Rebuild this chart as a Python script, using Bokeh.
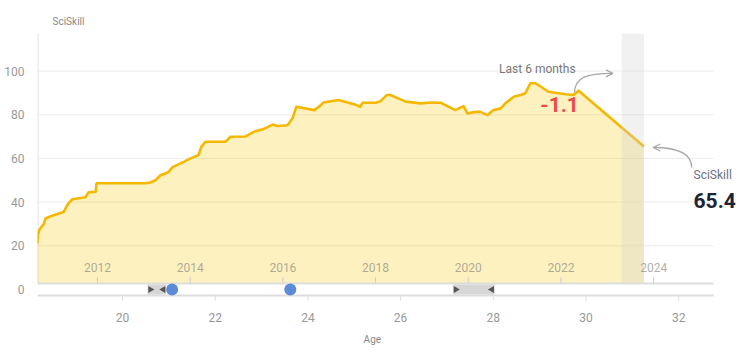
import math
from bokeh.plotting import figure
from bokeh.models import Label, Arrow, OpenHead
from bokeh.embed import file_html
from bokeh.resources import INLINE

# ---- data ----
ages = [18.16, 18.18, 18.21, 18.30, 18.34, 18.45, 18.73, 18.83, 18.92, 19.20, 19.27, 19.42, 19.44,
        20.50, 20.60, 20.71, 20.82, 20.99, 21.08, 21.32, 21.47, 21.64, 21.70, 21.79, 22.22, 22.33,
        22.65, 22.83, 23.04, 23.24, 23.34, 23.56, 23.67, 23.75, 24.14, 24.25, 24.34, 24.66, 25.05,
        25.13, 25.18, 25.46, 25.57, 25.70, 25.78, 26.11, 26.43, 26.65, 26.86, 27.18, 27.36, 27.44,
        27.62, 27.72, 27.87, 28.00, 28.16, 28.26, 28.44, 28.59, 28.69, 28.80, 28.91, 29.19, 29.56,
        29.73, 29.84, 31.25]
sciskill = [21.0, 25.5, 27.5, 30.0, 32.5, 33.5, 35.5, 39.4, 41.3, 42.2, 44.5, 44.7, 48.6,
            48.6, 49.0, 50.0, 52.3, 53.7, 56.0, 58.4, 60.0, 61.5, 65.3, 67.6, 67.6, 69.9,
            70.0, 72.2, 73.4, 75.5, 74.8, 75.2, 78.4, 83.6, 82.1, 83.9, 85.6, 86.7, 84.4,
            83.6, 85.5, 85.5, 86.2, 89.0, 89.0, 86.0, 85.2, 85.6, 85.5, 82.1, 83.9, 80.6,
            81.3, 81.3, 79.8, 82.1, 82.9, 85.2, 88.2, 89.0, 89.8, 94.4, 94.4, 90.5, 89.4,
            89.0, 91.0, 65.4]
years = [2012, 2014, 2016, 2018, 2020, 2022, 2024]
year_offset = 1992.54            # calendar year minus age
age_ticks = [20, 22, 24, 26, 28, 30, 32]
y_ticks = [0, 20, 40, 60, 80, 100]
grid_values = [20, 40, 60, 80, 100]
last6_start, last6_end = 30.77, 31.25
range_left = [20.54, 27.13]
range_right = [20.94, 28.03]
milestones = [21.07, 23.62]
current_value = "65.4"
change_6m = "-1.1"

FONT = "Roboto"
BASE = 2.75
YTOP = 117.2
XMIN, XMAX = 18.166, 32.751
AXIS_Y = -2.75

p = figure(width=750, height=356, x_range=(XMIN, 33.549), y_range=(-30.66, 132.27),
           output_backend="svg", toolbar_location=None,
           min_border_left=37, min_border_right=0, min_border_top=0, min_border_bottom=0)
p.outline_line_color = None
p.background_fill_color = "white"
p.border_fill_color = "white"
p.xaxis.visible = False

# grid (drawn manually so it stops at the chart's right edge)
p.xgrid.visible = False
p.ygrid.visible = False
p.segment(x0=[XMIN] * len(grid_values), y0=grid_values, x1=[XMAX] * len(grid_values),
          y1=grid_values, line_color="#ececec", line_width=1)

# y axis
p.yaxis.ticker = y_ticks
p.yaxis.axis_line_color = None
p.yaxis.major_tick_line_color = None
p.yaxis.minor_tick_line_color = None
p.yaxis.major_label_standoff = 7
p.yaxis.major_label_text_font = FONT
p.yaxis.major_label_text_font_size = "12px"
p.yaxis.major_label_text_color = "#999999"

# bottom age axis
p.segment(x0=[XMIN], y0=[AXIS_Y], x1=[XMAX], y1=[AXIS_Y], line_color="#dddddd", line_width=2)
p.segment(x0=age_ticks, y0=[AXIS_Y] * len(age_ticks), x1=age_ticks, y1=[-5.1] * len(age_ticks),
          line_color="#dddddd", line_width=1)
p.text(x=age_ticks, y=[-12.8] * len(age_ticks), text=[str(a) for a in age_ticks],
       text_align="center", text_baseline="middle", text_font_size="12px",
       text_color="#999999", text_font={"value": FONT})
p.add_layout(Label(x=25.39, y=-22.9, text="Age", text_align="center", text_baseline="middle",
                   text_font=FONT, text_font_size="10px", text_color="#888888"))

# left vertical line
p.segment(x0=[XMIN + 0.01], y0=[BASE], x1=[XMIN + 0.01], y1=[YTOP], line_color="#e6e6e6", line_width=1.5)

# area + line
p.varea(x=ages, y1=BASE, y2=sciskill, fill_color="#f7c600", fill_alpha=0.25)
p.line(x=ages, y=sciskill, line_color="#f5b800", line_width=2.6, line_join="round")

# last 6 months band
p.quad(left=[last6_start], right=[last6_end], bottom=[BASE], top=[YTOP],
       fill_color="#cfcfcf", fill_alpha=0.3, line_color=None)

# strip top line
p.segment(x0=[XMIN], y0=[BASE], x1=[XMAX], y1=[BASE], line_color="#dddddd", line_width=2)

# year ticks and labels
year_ages = [y - year_offset for y in years]
p.segment(x0=year_ages, y0=[BASE] * len(years), x1=year_ages, y1=[5.6] * len(years),
          line_color="#cccccc", line_width=1)
p.text(x=year_ages, y=[10.1] * len(years), text=[str(y) for y in years],
       text_align="center", text_baseline="middle", text_font_size="12px",
       text_color="#777777", text_alpha=0.6, text_font={"value": FONT})

# range indicators in the strip
p.quad(left=range_left, right=range_right, bottom=[-2.3] * 2, top=[2.3] * 2,
       fill_color="#d6d6d6", line_color=None)
p.scatter(x=[l + 0.06 for l in range_left], y=[0] * 2, marker="triangle", size=7,
          angle=-math.pi / 2, fill_color="#555555", line_color=None)
p.scatter(x=[r - 0.06 for r in range_right], y=[0] * 2, marker="triangle", size=7,
          angle=math.pi / 2, fill_color="#555555", line_color=None)
p.scatter(x=milestones, y=[0] * len(milestones), marker="circle", size=12,
          fill_color="#5b8bd6", line_color=None)

# annotations: last 6 months
p.bezier(x0=[29.75], y0=[90.2], x1=[30.57], y1=[98.9], cx0=[29.77], cy0=[97.0],
         cx1=[29.99], cy1=[98.9], line_color="#a8a8a8", line_width=1.3)
p.add_layout(Arrow(x_start=30.50, y_start=98.9, x_end=30.58, y_end=98.9,
                   line_color="#a8a8a8", line_width=1.3,
                   end=OpenHead(size=7, line_color="#a8a8a8", line_width=1.3)))
p.add_layout(Label(x=28.95, y=101.1, text="Last 6 months", text_align="center",
                   text_baseline="middle", text_font=FONT, text_font_size="12px",
                   text_color="#777777"))
p.add_layout(Label(x=29.43, y=84.9, text=change_6m, text_align="center",
                   text_baseline="middle", text_font=FONT, text_font_size="21px",
                   text_font_style="bold", text_color="#f04848"))

# annotations: current value
p.bezier(x0=[32.28], y0=[55.8], x1=[31.46], y1=[65.0], cx0=[32.28], cy0=[62.7],
         cx1=[31.93], cy1=[65.0], line_color="#a8a8a8", line_width=1.3)
p.add_layout(Arrow(x_start=31.53, y_start=65.0, x_end=31.45, y_end=65.0,
                   line_color="#a8a8a8", line_width=1.3,
                   end=OpenHead(size=7, line_color="#a8a8a8", line_width=1.3)))
p.add_layout(Label(x=32.32, y=52.6, text="SciSkill", text_align="left",
                   text_baseline="middle", text_font=FONT, text_font_size="12px",
                   text_color="#6b7280"))
p.add_layout(Label(x=32.32, y=40.7, text=current_value, text_align="left",
                   text_baseline="middle", text_font=FONT, text_font_size="21px",
                   text_font_style="bold", text_color="#1c2536"))

# y axis title
p.add_layout(Label(x=18.49, y=122.7, text="SciSkill", text_align="left",
                   text_baseline="middle", text_font=FONT, text_font_size="10px",
                   text_color="#888888"))

open("out.html", "w").write(file_html(p, INLINE))
